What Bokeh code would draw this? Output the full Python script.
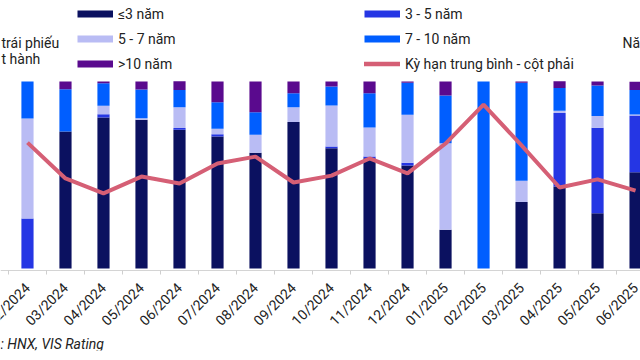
import math
import numpy as np
from bokeh.plotting import figure
from bokeh.models import (ColumnDataSource, Range1d, FixedTicker, Legend, LegendItem,
                          Label, LinearAxis)
from bokeh.core.properties import value
from bokeh.embed import file_html
from bokeh.resources import INLINE

months = ["02/2024", "03/2024", "04/2024", "05/2024", "06/2024", "07/2024", "08/2024",
          "09/2024", "10/2024", "11/2024", "12/2024", "01/2025", "02/2025", "03/2025",
          "04/2025", "05/2025", "06/2025"]
le3 = [0, 73.3, 80.7, 79.5, 74.2, 70.6, 61.9, 78.4, 64.3, 59.0, 55.1, 20.7, 0, 35.5, 43.9, 29.6, 51.5]
y3_5 = [26.7, 0, 1.8, 0, 0.9, 1.2, 0, 0, 0.9, 0.9, 1.4, 0, 0, 0, 39.2, 45.7, 30.3]
y5_7 = [53.5, 0, 4.5, 0.9, 11.1, 2.9, 9.6, 7.8, 21.9, 15.5, 25.7, 46.3, 0, 11.4, 1.3, 6.2, 0.5]
y7_10 = [19.8, 22.6, 12.1, 15.3, 9.3, 14.2, 12.1, 7.5, 10.2, 18.3, 17.1, 25.5, 100, 52.4, 12.1, 16.4, 13.2]
gt10 = [0, 4.1, 0.9, 4.3, 4.7, 11.1, 16.4, 6.3, 2.7, 6.3, 0.7, 7.5, 0, 0.7, 3.6, 2.1, 4.4]
avg_years = [4.04, 2.89, 2.41, 2.95, 2.73, 3.37, 3.59, 2.76, 2.98, 3.53, 3.05, 4.01, 5.26,
             3.95, 2.60, 2.86, 2.50]

series_names = ["≤3 năm", "3 - 5 năm", "5 - 7 năm", "7 - 10 năm", ">10 năm"]
line_name = "Kỳ hạn trung bình - cột phải"
colors = ["#0b1160", "#2536e4", "#b9bcf4", "#005eff", "#5a0a8e"]
line_color = "#d55f75"
FONT = "Roboto"
TXT = "#222222"

# geometry: frame covers canvas rows 0..350; zero line at row 268, 100% at row 81
FRAME_H = 350
ZERO_PX = 268
PX_PER_100 = 187.0
y_top = 100 * ZERO_PX / PX_PER_100
y_bot = -100 * (FRAME_H - ZERO_PX) / PX_PER_100
R_MAX = 6.0  # right-axis value at the 100% row
yr_top = R_MAX * ZERO_PX / PX_PER_100
yr_bot = -R_MAX * (FRAME_H - ZERO_PX) / PX_PER_100

def row_to_y(row):
    return 100 * (ZERO_PX - row) / PX_PER_100

xs = list(range(len(months)))
src = ColumnDataSource(dict(x=xs, m=months, s0=le3, s1=y3_5, s2=y5_7, s3=y7_10, s4=gt10,
                            avg=avg_years))

p = figure(width=640, height=360, frame_width=640, frame_height=FRAME_H,
           output_backend="svg", toolbar_location=None,
           x_range=Range1d(-0.71, 16.13), y_range=Range1d(y_bot, y_top),
           y_axis_location=None, x_axis_location=None,
           min_border_left=0, min_border_right=0, min_border_top=0, min_border_bottom=10)
p.extra_y_ranges = {"yr": Range1d(yr_bot, yr_top)}
p.grid.visible = False
p.outline_line_color = None
p.background_fill_color = "white"

p.vbar_stack(["s0", "s1", "s2", "s3", "s4"], x="x", width=0.32, color=colors,
             line_width=0, source=src)
p.line("x", "avg", source=src, y_range_name="yr", color=line_color, line_width=4)

# x axis drawn at the zero line, tick marks between categories
ax = LinearAxis(fixed_location=-1.0)
ax.ticker = FixedTicker(ticks=[], minor_ticks=[i - 0.5 for i in xs] + [len(xs) - 0.5])
ax.major_tick_line_color = None
ax.major_tick_out = 0
ax.major_tick_in = 0
ax.minor_tick_line_color = "#cfcfcf"
ax.minor_tick_out = 4
ax.minor_tick_in = 0
ax.axis_line_color = "#d4d4d4"
ax.major_label_standoff = 0
ax.major_label_text_font_size = "0px"
p.add_layout(ax, "below")

# category labels, rotated 45 degrees, ending at the bar centre
p.text(x="x", y=0, text="m", source=src, angle=math.pi / 4, y_offset=17,
       text_align="right", text_baseline="middle", text_font=value(FONT),
       text_font_size="14px", text_color=TXT)

# legend with dummy line renderers (column-major order)
nan = [np.nan]
def dummy(c, w, cap):
    return p.line(x=nan, y=nan, color=c, line_width=w, line_cap=cap)

r_bars = [dummy(c, 7, "butt") for c in colors]
r_line = dummy(line_color, 4.5, "round")
order = [(series_names[0], r_bars[0]), (series_names[2], r_bars[2]), (series_names[4], r_bars[4]),
         (series_names[1], r_bars[1]), (series_names[3], r_bars[3]), (line_name, r_line)]
items = [LegendItem(label=n, renderers=[r]) for n, r in order]

leg = Legend(items=items, ncols=2, location=(77, FRAME_H - 76), padding=0, spacing=0, margin=0,
             glyph_width=36, glyph_height=25, label_height=25, label_width=246,
             label_standoff=5, border_line_color=None, background_fill_alpha=0,
             label_text_font=FONT, label_text_font_size="14px", label_text_color=TXT)
p.add_layout(leg, "center")

def lab(text, x, row, style="normal", align="left"):
    p.add_layout(Label(x=x, y=row_to_y(row), x_units="screen", y_units="data", text=text,
                       text_font=FONT, text_font_size="14px", text_color=TXT,
                       text_font_style=style, text_baseline="middle", text_align=align))

lab("trái phiếu", 1, 42)
lab("t hành", 1, 58)
lab("Nă", 622, 42)
lab(": HNX, VIS Rating", 0, 343, style="italic")

open("out.html", "w").write(file_html(p, INLINE))
